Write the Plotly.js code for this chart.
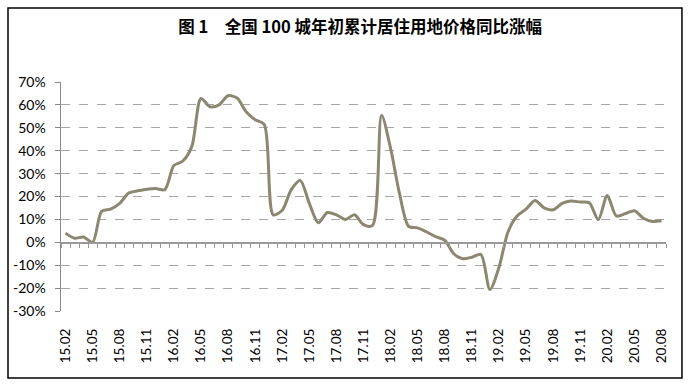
<!DOCTYPE html>
<html>
<head>
<meta charset="utf-8">
<script src="https://cdn.plot.ly/plotly-3.0.1.min.js"></script>
<style>html,body{margin:0;padding:0;background:#fff;}#chart{width:690px;height:386px;}</style>
</head>
<body>
<div id="chart"></div>
<script>
// Tick labels (every 3 months)
const tickLabels = ["15.02","15.05","15.08","15.11","16.02","16.05","16.08","16.11","17.02","17.05","17.08","17.11","18.02","18.05","18.08","18.11","19.02","19.05","19.08","19.11","20.02","20.05","20.08"];
// Monthly categories 2015.02 - 2020.08
const months = [];
for (let y = 15; y <= 20; y++) {
  for (let m = 1; m <= 12; m++) {
    if (y === 15 && m < 2) continue;
    if (y === 20 && m > 8) continue;
    months.push(y + "." + (m < 10 ? "0" + m : m));
  }
}
// YoY growth (%)
const growth = [4, 1.8, 2.3, 0, 13.5, 14.5, 17, 21.5, 22.5, 23.2, 23.5, 23,
  33.5, 35.5, 42, 62.8, 59.2, 60, 64, 63, 57, 53.5, 51.5,
  12, 14, 23, 27, 17, 8.5, 13, 12, 10, 12, 7.7, 7.4,
  55.5, 41, 21, 7, 6.3, 4.5, 2.5, 0.9, -5, -7.2, -6.5, -5.3,
  -20.6, -11, 4.5, 11.5, 14.5, 18.3, 15, 14.2, 17, 18, 17.6, 17.3,
  9.9, 20.4, 11.5, 12.5, 13.8, 10.5, 9.1, 9.4];
const yTicks = [-30, -20, -10, 0, 10, 20, 30, 40, 50, 60, 70];

const idx = months.map((_, i) => i);
const tickIdx = tickLabels.map(l => months.indexOf(l));
const boundaries = [];
for (let i = 0; i <= months.length; i++) boundaries.push(i - 0.5);

const trace = {
  x: idx, y: growth, type: 'scatter', mode: 'lines',
  line: {color: '#8c8771', width: 3, shape: 'spline', smoothing: 0.8},
  hoverinfo: 'skip'
};
const axisTrace = {x: [0], y: [0], xaxis: 'x2', yaxis: 'y', mode: 'none', hoverinfo: 'skip', showlegend: false};

const layout = {
  width: 690, height: 386,
  margin: {l: 61, r: 24, t: 82, b: 75},
  paper_bgcolor: '#fff', plot_bgcolor: '#fff',
  showlegend: false,
  title: {text: '<b>图 1　全国 100 城年初累计居住用地价格同比涨幅</b>', x: 0.522, xanchor: 'center', y: 0.93, yanchor: 'middle',
    font: {family: '"Noto Sans CJK SC", sans-serif', size: 16.5, color: '#000'}},
  xaxis: {
    range: [-0.5, months.length - 0.5], tickvals: tickIdx, ticktext: tickLabels,
    tickangle: -90, showgrid: false, zeroline: false, showline: false, ticks: '',
    tickfont: {family: 'Lato, "Open Sans", sans-serif', size: 13.5, color: '#000'},
    ticklabelstandoff: 14
  },
  xaxis2: {
    overlaying: 'x', anchor: 'free', position: 0.3, range: [-0.5, months.length - 0.5],
    tickvals: boundaries, showticklabels: false, ticks: 'outside', ticklen: 4, tickcolor: '#999', tickwidth: 1,
    showline: true, linecolor: '#999', linewidth: 1.5, showgrid: false, zeroline: false
  },
  yaxis: {
    range: [-30, 70], tickvals: yTicks, ticktext: yTicks.map(v => v + '%'),
    showgrid: true, gridcolor: '#a6a6a6', griddash: 'dash', gridwidth: 1,
    zeroline: false, showline: true, linecolor: '#888', linewidth: 1.5,
    ticks: 'outside', ticklen: 5, tickcolor: '#888',
    tickfont: {family: 'Lato, "Open Sans", sans-serif', size: 14, color: '#000'},
    ticklabelstandoff: 6
  },
  shapes: [{type: 'rect', xref: 'paper', yref: 'paper', x0: -0.0876, x1: 1.0264, y0: -0.2926, y1: 1.3231,
    line: {color: '#000', width: 1.5}, fillcolor: 'rgba(0,0,0,0)'}]
};
Plotly.newPlot('chart', [trace, axisTrace], layout, {displayModeBar: false, staticPlot: true});
</script>
</body>
</html>
